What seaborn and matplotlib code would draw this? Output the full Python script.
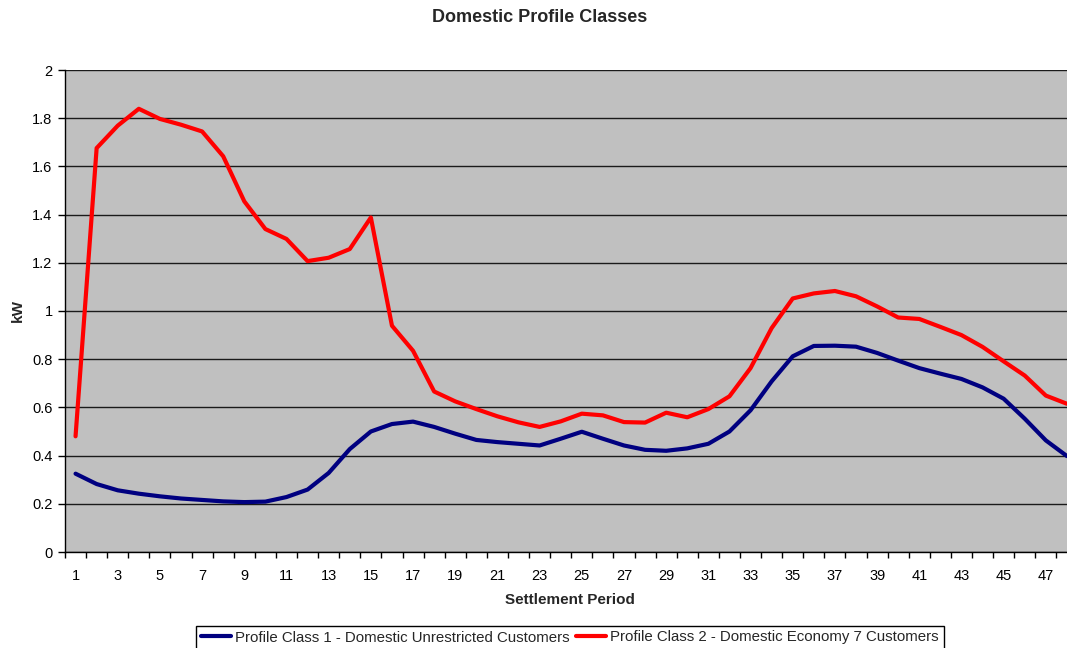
import numpy as np
import pandas as pd
import matplotlib
matplotlib.use("Agg")
import matplotlib.pyplot as plt
import seaborn as sns
from matplotlib.ticker import FixedLocator
from matplotlib.lines import Line2D

periods = list(range(1, 49))
class1 = [0.325, 0.282, 0.256, 0.242, 0.231, 0.222, 0.216, 0.210, 0.207, 0.209,
          0.228, 0.259, 0.328, 0.427, 0.500, 0.531, 0.541, 0.519, 0.491, 0.465,
          0.456, 0.449, 0.442, 0.470, 0.499, 0.470, 0.442, 0.424, 0.420, 0.430,
          0.449, 0.500, 0.588, 0.708, 0.812, 0.855, 0.856, 0.852, 0.826, 0.794,
          0.763, 0.740, 0.718, 0.683, 0.636, 0.553, 0.463, 0.398]
class2 = [0.480, 1.676, 1.769, 1.839, 1.797, 1.773, 1.745, 1.642, 1.455, 1.340,
          1.299, 1.207, 1.221, 1.257, 1.388, 0.939, 0.835, 0.666, 0.625, 0.593,
          0.563, 0.538, 0.519, 0.542, 0.574, 0.567, 0.539, 0.537, 0.578, 0.559,
          0.593, 0.646, 0.763, 0.929, 1.052, 1.073, 1.083, 1.061, 1.019, 0.973,
          0.967, 0.934, 0.900, 0.851, 0.791, 0.732, 0.649, 0.615]
series_names = ["Profile Class 1 - Domestic Unrestricted Customers",
                "Profile Class 2 - Domestic Economy 7 Customers"]
series_colors = ["#000080", "#FF0000"]
x_tick_labels = [str(p) for p in range(1, 48, 2)]
y_ticks = [0, 0.2, 0.4, 0.6, 0.8, 1.0, 1.2, 1.4, 1.6, 1.8, 2.0]

df = pd.DataFrame({
    "period": periods * 2,
    "kW": class1 + class2,
    "series": [series_names[0]] * 48 + [series_names[1]] * 48,
})

sns.set_theme(style="white")
plt.rcParams["font.family"] = ["Liberation Sans", "DejaVu Sans"]

W, H = 1067, 648
fig = plt.figure(figsize=(W / 100, H / 100), dpi=100)
left, right, top, bottom = 65, 1077.5, 70, 552
ax = fig.add_axes([left / W, 1 - bottom / H, (right - left) / W, (bottom - top) / H])
ax.set_facecolor("#C0C0C0")

sns.lineplot(data=df, x="period", y="kW", hue="series", palette=series_colors,
             linewidth=3, ax=ax, legend=False, solid_capstyle="round")

ax.set_xlim(0.5, 48.5)
ax.set_ylim(0, 2)
ax.set_yticks(y_ticks)
ax.set_yticklabels([("%g" % v) for v in y_ticks])
ax.yaxis.grid(True, color="#1a1a1a", linewidth=1)
ax.set_axisbelow(True)

ax.set_xticks(list(range(1, 48, 2)))
ax.set_xticklabels(x_tick_labels)
ax.xaxis.set_minor_locator(FixedLocator(np.arange(0.5, 49, 1.0)))
ax.tick_params(axis="x", which="major", length=0, labelsize=10.5, pad=12, colors="black")
ax.tick_params(axis="x", which="minor", length=4, width=1, direction="out", color="black", bottom=True)
ax.tick_params(axis="y", which="major", length=5, width=1, direction="out", labelsize=10.5,
               colors="black", left=True, pad=4)

for s in ["left", "bottom"]:
    ax.spines[s].set_color("black")
    ax.spines[s].set_linewidth(1)
for s in ["top", "right"]:
    ax.spines[s].set_visible(False)

ax.set_xlabel("Settlement Period", fontsize=11, fontweight="bold")
ax.xaxis.set_label_coords((570 - left) / (right - left), -(600 - bottom) / (bottom - top))
ax.set_ylabel("kW", fontsize=11, fontweight="bold")
ax.yaxis.set_label_coords(-(left - 18) / (right - left), 0.5)
ax.yaxis.label.set_va("center")
ax.xaxis.label.set_va("center")
fig.text(540 / W, 1 - 17 / H, "Domestic Profile Classes", ha="center", va="center",
         fontsize=13, fontweight="bold")

handles = [Line2D([0], [0], color=c, linewidth=3) for c in series_colors]
leg = fig.legend(handles, series_names, loc="upper center", ncol=2,
                 bbox_to_anchor=(570 / W, 1 - 626 / H), frameon=True, fancybox=False,
                 edgecolor="black", fontsize=10.8, handlelength=2.0, handletextpad=0.3,
                 columnspacing=0.4, borderpad=0.3, borderaxespad=0, framealpha=1)
leg.get_frame().set_linewidth(1)

fig.savefig("out.png", dpi=100)
